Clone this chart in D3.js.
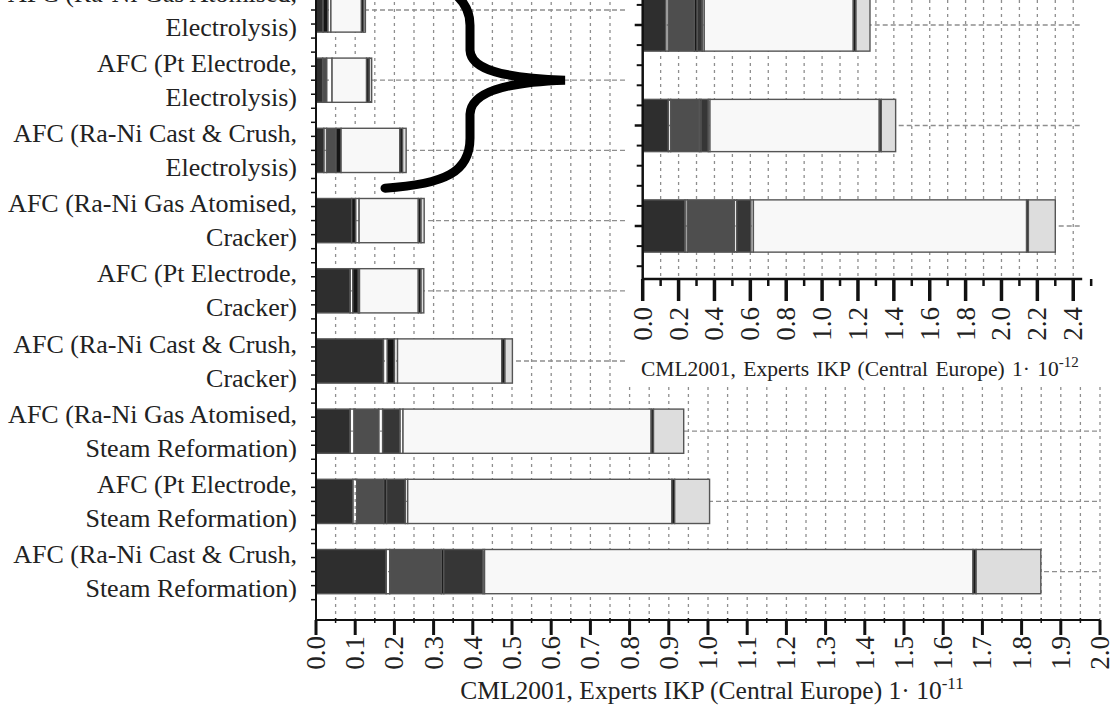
<!DOCTYPE html>
<html>
<head>
<meta charset="utf-8">
<script src="https://cdn.jsdelivr.net/npm/d3@7"></script>
<style>
    body { margin: 0; background: #fff; }
    svg { display: block; }
    text { font-family: "Liberation Serif", "Times New Roman", serif; fill: #222; }
</style>
</head>
<body>
<div id="chart"></div>
<script>
// row labels (two lines each), top to bottom
const categories = [
    ["AFC (Ra-Ni Gas Atomised,", "Electrolysis)"],
    ["AFC (Pt Electrode,", "Electrolysis)"],
    ["AFC (Ra-Ni Cast & Crush,", "Electrolysis)"],
    ["AFC (Ra-Ni Gas Atomised,", "Cracker)"],
    ["AFC (Pt Electrode,", "Cracker)"],
    ["AFC (Ra-Ni Cast & Crush,", "Cracker)"],
    ["AFC (Ra-Ni Gas Atomised,", "Steam Reformation)"],
    ["AFC (Pt Electrode,", "Steam Reformation)"],
    ["AFC (Ra-Ni Cast & Crush,", "Steam Reformation)"]
];

// stacked segments, left to right
const segments = ["dark", "gapA", "medium", "edgeA", "gapB", "darkB", "gapC", "light", "edgeB", "grey"];
const segColors = {
    dark: "#2e2e2e", gapA: "none", medium: "#4e4e4e", edgeA: "#151515", gapB: "none",
    darkB: "#363636", gapC: "none", light: "#f8f8f8", edgeB: "#1a1a1a", grey: "#dddddd"
};

// main chart values (x 1e-11)
const dark   = [0.018, 0.017, 0.020, 0.091, 0.087, 0.172, 0.087, 0.094, 0.179];
const gapA   = [0,     0,     0.007, 0,     0.007, 0.010, 0.010, 0.010, 0.009];
const medium = [0,     0.010, 0.024, 0,     0,     0,     0.063, 0.069, 0.132];
const edgeA  = [0.012, 0,     0.013, 0.010, 0.014, 0.018, 0,     0.007, 0.006];
const gapB   = [0,     0,     0,     0,     0,     0,     0.010, 0,     0];
const darkB  = [0,     0,     0,     0,     0,     0,     0.044, 0.048, 0.100];
const gapC   = [0.008, 0.014, 0,     0.009, 0.003, 0.008, 0.008, 0.006, 0.004];
const light  = [0.078, 0.088, 0.150, 0.151, 0.150, 0.266, 0.633, 0.674, 1.246];
const edgeB  = [0.006, 0.007, 0.007, 0.007, 0.007, 0.008, 0.006, 0.007, 0.008];
const grey   = [0.004, 0.006, 0.009, 0.008, 0.007, 0.019, 0.077, 0.089, 0.165];

// inset values (x 1e-12), the three electrolysis rows
const insetRows   = [0, 1, 2];
const insetDark   = [0.128, 0.143, 0.236];
const insetGapA   = [0.015, 0.013, 0.013];
const insetMedium = [0.145, 0.160, 0.262];
const insetEdgeA  = [0.016, 0.009, 0];
const insetGapB   = [0,     0,     0.013];
const insetDarkB  = [0.028, 0.041, 0.078];
const insetGapC   = [0.011, 0.009, 0.015];
const insetLight  = [0.831, 0.944, 1.523];
const insetEdgeB  = [0.015, 0.011, 0.010];
const insetGrey   = [0.078, 0.080, 0.150];

const mainTicks = d3.range(0, 21).map(d => d / 10);
const insetTicks = d3.range(0, 13).map(d => d / 5);

const width = 1114, height = 728;
const svg = d3.select('#chart').append('svg').attr('width', width).attr('height', height);

function buildRows(cols, n)
{
    return d3.range(n).map(i => {
        let row = { idx: i };
        segments.forEach((k, j) => row[k] = cols[j][i]);
        return row;
    });
}

let mainData = buildRows([dark, gapA, medium, edgeA, gapB, darkB, gapC, light, edgeB, grey], categories.length);
let insetData = buildRows([insetDark, insetGapA, insetMedium, insetEdgeA, insetGapB, insetDarkB, insetGapC, insetLight, insetEdgeB, insetGrey], insetRows.length);

let stack = d3.stack().keys(segments);

// ---------- main chart ----------
let x = d3.scaleLinear().domain([0, 2]).range([316, 1100]);
let y = d3.scaleBand().domain(d3.range(categories.length)).range([-25.1, 606.7]).paddingInner(0.37).paddingOuter(0.185);
let axisY = 620, plotTop = -40;
let step = y.step();

let main = svg.append('g');

// vertical dotted grid every 0.05
main.append('g').selectAll('line')
    .data(d3.range(1, 41).map(d => d / 20))
    .join('line')
    .attr('x1', d => x(d)).attr('x2', d => x(d))
    .attr('y1', plotTop).attr('y2', axisY)
    .attr('stroke', '#8e8e8e').attr('stroke-width', 1.3)
    .attr('stroke-dasharray', '3,4');

// horizontal dashed grid at row centres
main.append('g').selectAll('line')
    .data(d3.range(categories.length))
    .join('line')
    .attr('x1', x(0)).attr('x2', x(2))
    .attr('y1', d => y(d) + y.bandwidth() / 2).attr('y2', d => y(d) + y.bandwidth() / 2)
    .attr('stroke', '#8e8e8e').attr('stroke-width', 1.3)
    .attr('stroke-dasharray', '5,3');

function drawBars(g, data, xs, ys)
{
    let layers = stack(data);
    g.selectAll('g.layer')
        .data(layers)
        .join('g').classed('layer', true)
        .selectAll('rect')
        .data(l => l.map(d => ({ key: l.key, v0: d[0], v1: d[1], idx: d.data.idx })).filter(d => d.v1 - d.v0 > 0))
        .join('rect')
        .attr('x', d => xs(d.v0))
        .attr('width', d => xs(d.v1) - xs(d.v0))
        .attr('y', d => ys(d.idx))
        .attr('height', ys.bandwidth())
        .attr('fill', d => segColors[d.key])
        .attr('stroke', '#555')
        .attr('stroke-width', 1.4);
}

drawBars(main.append('g'), mainData, x, y);

// y axis line with small ticks
main.append('line')
    .attr('x1', x(0)).attr('x2', x(0)).attr('y1', plotTop).attr('y2', axisY)
    .attr('stroke', '#111').attr('stroke-width', 2);
let yTicks = [];
d3.range(categories.length).forEach(i => {
    let c = y(i) + y.bandwidth() / 2;
    for (let k = -2; k <= 2; k++) yTicks.push(c + k * step / 5);
});
main.append('g').selectAll('line').data(yTicks).join('line')
    .attr('x1', x(0) - 5).attr('x2', x(0))
    .attr('y1', d => d).attr('y2', d => d)
    .attr('stroke', '#111').attr('stroke-width', 1.5);

// row labels
let labels = main.append('g').selectAll('text')
    .data(categories)
    .join('text')
    .attr('text-anchor', 'end')
    .attr('font-size', 26);
labels.each(function(d, i) {
    let c = y(i) + y.bandwidth() / 2;
    d3.select(this).selectAll('tspan').data(d).join('tspan')
        .attr('x', 297)
        .attr('y', (t, j) => c + (j === 0 ? -17 : 17))
        .attr('dominant-baseline', 'central')
        .text(t => t);
});

// x axis
main.append('line')
    .attr('x1', x(0)).attr('x2', x(2)).attr('y1', axisY).attr('y2', axisY)
    .attr('stroke', '#111').attr('stroke-width', 2);
main.append('g').selectAll('line').data(mainTicks).join('line')
    .attr('x1', d => x(d)).attr('x2', d => x(d))
    .attr('y1', axisY).attr('y2', axisY + 15)
    .attr('stroke', '#111').attr('stroke-width', 3);
main.append('g').selectAll('line').data(mainTicks.slice(0, -1).map(d => d + 0.05)).join('line')
    .attr('x1', d => x(d)).attr('x2', d => x(d))
    .attr('y1', axisY - 2).attr('y2', axisY + 3)
    .attr('stroke', '#111').attr('stroke-width', 1.5);
main.append('g').selectAll('text').data(mainTicks).join('text')
    .attr('transform', d => `translate(${x(d)},${axisY + 16}) rotate(-90)`)
    .attr('text-anchor', 'end')
    .attr('dominant-baseline', 'central')
    .attr('font-size', 27)
    .text(d3.format('.1f'));

let mainTitle = main.append('text')
    .attr('x', x(1) + 4).attr('y', 699)
    .attr('text-anchor', 'middle')
    .attr('font-size', 25.5);
mainTitle.append('tspan').text('CML2001, Experts IKP (Central Europe) 1\u00b7 10');
mainTitle.append('tspan').attr('dy', -10).attr('font-size', 17).text('-11');

// brace from the electrolysis rows to the inset
let tipY = y(1) + y.bandwidth() / 2;
let bx = 470, tipX = 565, endX = 385;
let brace = d3.path();
brace.moveTo(endX, tipY + 108);
brace.bezierCurveTo(445, tipY + 104, bx, tipY + 92, bx, tipY + 58);
brace.lineTo(bx, tipY + 34);
brace.bezierCurveTo(bx + 1, tipY + 12, 505, tipY + 2, tipX, tipY);
brace.bezierCurveTo(505, tipY - 2, bx + 1, tipY - 10, bx, tipY - 30);
brace.lineTo(bx, tipY - 55);
brace.bezierCurveTo(bx, tipY - 85, 440, tipY - 102, 395, tipY - 105);
main.append('path')
    .attr('d', brace.toString())
    .attr('fill', 'none')
    .attr('stroke', '#000')
    .attr('stroke-width', 9)
    .attr('stroke-linecap', 'round');

// ---------- inset ----------
let inset = svg.append('g');
inset.append('rect')
    .attr('x', 625).attr('y', 0).attr('width', width - 625).attr('height', 386)
    .attr('fill', '#fff');

let xi = d3.scaleLinear().domain([0, 2.45]).range([642.7, 1082.2]);
let yi = d3.scaleBand().domain(insetRows).range([-25.25, 276.25]).paddingInner(0.48).paddingOuter(0.24);
let insetAxisY = 279;
let istep = yi.step();

inset.append('g').selectAll('line')
    .data(d3.range(1, 25).map(d => d / 10))
    .join('line')
    .attr('x1', d => xi(d)).attr('x2', d => xi(d))
    .attr('y1', 0).attr('y2', insetAxisY)
    .attr('stroke', '#8e8e8e').attr('stroke-width', 1.3)
    .attr('stroke-dasharray', '3,4');
inset.append('g').selectAll('line')
    .data(insetRows)
    .join('line')
    .attr('x1', xi(0)).attr('x2', xi(2.45))
    .attr('y1', d => yi(d) + yi.bandwidth() / 2).attr('y2', d => yi(d) + yi.bandwidth() / 2)
    .attr('stroke', '#8e8e8e').attr('stroke-width', 1.3)
    .attr('stroke-dasharray', '5,3');

drawBars(inset.append('g'), insetData, xi, yi);

inset.append('line')
    .attr('x1', xi(0)).attr('x2', xi(0)).attr('y1', 0).attr('y2', insetAxisY)
    .attr('stroke', '#111').attr('stroke-width', 2.5);
let iTicks = [];
insetRows.forEach(i => {
    let c = yi(i) + yi.bandwidth() / 2;
    for (let k = -2; k <= 2; k++) iTicks.push({ y: c + k * istep / 5, major: k === 0 });
});
inset.append('g').selectAll('line').data(iTicks).join('line')
    .attr('x1', d => xi(0) - (d.major ? 8 : 6)).attr('x2', xi(0))
    .attr('y1', d => d.y).attr('y2', d => d.y)
    .attr('stroke', '#111').attr('stroke-width', d => d.major ? 2.5 : 2);

inset.append('line')
    .attr('x1', xi(0)).attr('x2', xi(2.45)).attr('y1', insetAxisY).attr('y2', insetAxisY)
    .attr('stroke', '#111').attr('stroke-width', 2.5);
inset.append('g').selectAll('line').data(insetTicks).join('line')
    .attr('x1', d => xi(d)).attr('x2', d => xi(d))
    .attr('y1', insetAxisY).attr('y2', insetAxisY + 22)
    .attr('stroke', '#111').attr('stroke-width', 3.5);
inset.append('g').selectAll('line').data(insetTicks.map(d => d + 0.1)).join('line')
    .attr('x1', d => xi(d)).attr('x2', d => xi(d))
    .attr('y1', insetAxisY).attr('y2', insetAxisY + 7)
    .attr('stroke', '#111').attr('stroke-width', 2.5);
inset.append('g').selectAll('text').data(insetTicks).join('text')
    .attr('transform', d => `translate(${xi(d)},${insetAxisY + 28}) rotate(-90)`)
    .attr('text-anchor', 'end')
    .attr('dominant-baseline', 'central')
    .attr('font-size', 27)
    .text(d3.format('.1f'));

let insetTitle = inset.append('text')
    .attr('x', 641).attr('y', 376)
    .attr('font-size', 21.5)
    .attr('word-spacing', 2);
insetTitle.append('tspan').text('CML2001, Experts IKP (Central Europe) 1\u00b7 10');
insetTitle.append('tspan').attr('dy', -9).attr('font-size', 15).text('-12');
</script>
</body>
</html>
